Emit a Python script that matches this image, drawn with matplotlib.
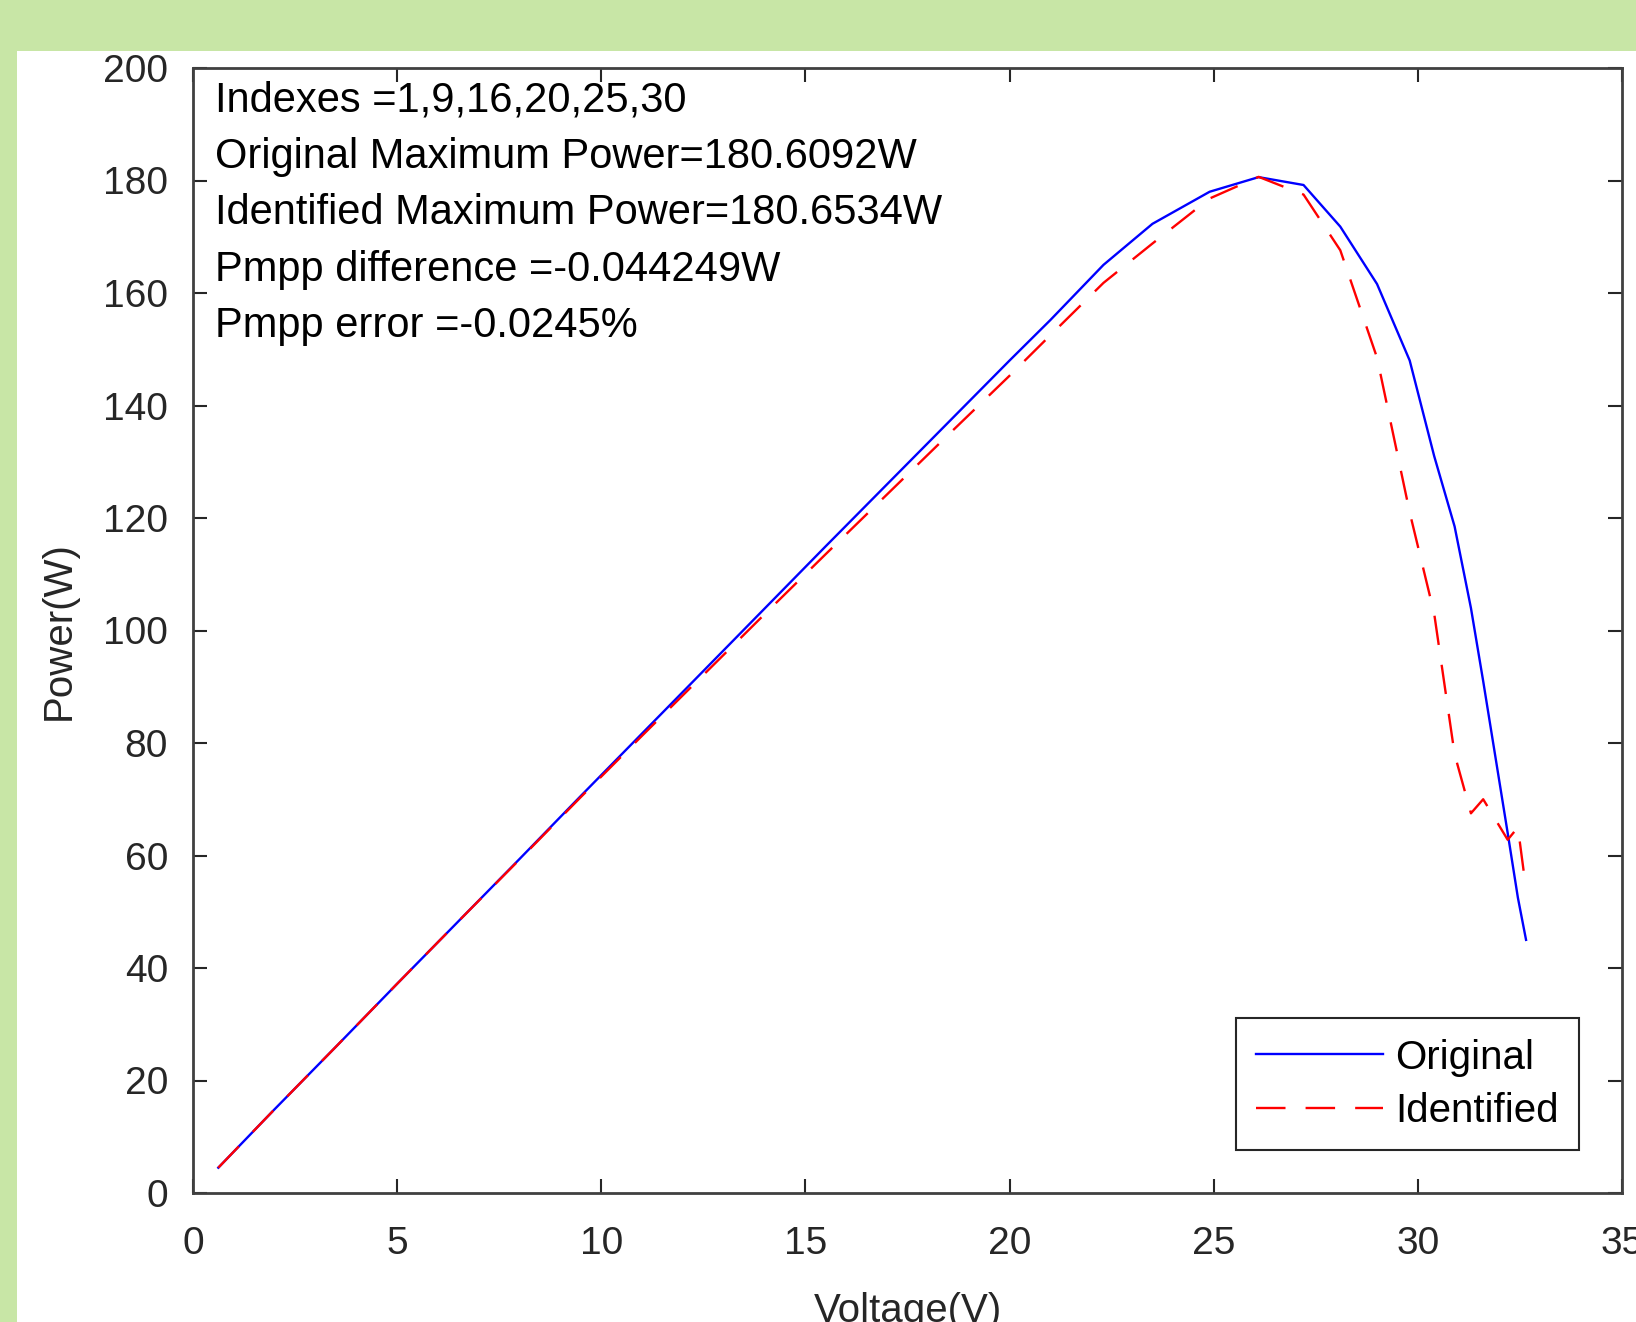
import matplotlib
matplotlib.use("Agg")
import matplotlib.pyplot as plt
from matplotlib.patches import Rectangle

plt.rcParams['font.family'] = ['Liberation Sans', 'DejaVu Sans']

# measured P-V curve (Original) and fitted one (Identified)
voltage = [0.62, 2.0, 3.5, 5.0, 6.5, 8.0, 9.5, 11.0, 12.5, 14.0, 15.5, 17.0, 18.5, 20.0, 21.0,
           22.3, 23.5, 24.9, 26.1, 27.2, 28.1, 29.0, 29.8, 30.4, 30.9, 31.3, 31.6, 32.2, 32.45, 32.65]
p_original = [4.5, 14.9, 26.0, 37.2, 48.3, 59.4, 70.6, 81.7, 92.8, 103.9, 115.0, 126.0, 137.0, 148.0, 155.2,
              165.0, 172.3, 178.0, 180.6, 179.2, 171.8, 161.6, 148.0, 131.0, 118.5, 104.0, 91.0, 64.0, 52.5, 45.0]
p_identified = [4.5, 14.9, 26.0, 37.2, 48.3, 59.3, 70.4, 81.3, 92.1, 102.9, 113.6, 124.2, 134.8, 145.3, 152.5,
                161.8, 168.8, 176.8, 180.65, 177.5, 167.6, 148.5, 121.0, 103.0, 78.0, 67.5, 70.0, 62.8, 65.0, 54.0]

info_lines = ["Indexes =1,9,16,20,25,30",
              "Original Maximum Power=180.6092W",
              "Identified Maximum Power=180.6534W",
              "Pmpp difference =-0.044249W",
              "Pmpp error =-0.0245%"]

W, H = 1636, 1322
fig = plt.figure(figsize=(W / 100, H / 100), dpi=100, facecolor='#c8e6a6')
fig.add_artist(Rectangle((17 / W, 0), 1, (H - 51) / H, transform=fig.transFigure,
                         facecolor='white', edgecolor='none', zorder=0))

ax = fig.add_axes([193 / W, (H - 1193) / H, (1622 - 193) / W, (1193 - 68) / H])
ax.set_facecolor('white')

ax.plot(voltage, p_original, color='#0000ff', lw=1.7, label='Original')
ax.plot(voltage, p_identified, color='#ff0000', lw=1.7, linestyle=(0, (12.5, 8.5)), label='Identified')

ax.set_xlim(0, 35)
ax.set_ylim(0, 200)
ax.set_xticks(range(0, 36, 5))
ax.set_yticks(range(0, 201, 20))

fs = 28
ax.tick_params(direction='in', length=10, width=1.5, colors='#262626', labelsize=fs,
               top=True, right=True)
ax.tick_params(axis='x', pad=24)
ax.tick_params(axis='y', pad=18)
for s in ax.spines.values():
    s.set_color('#404040')
    s.set_linewidth(2.0)

ax.set_xlabel('Voltage(V)', fontsize=29, color='#262626', va='top')
ax.xaxis.set_label_coords(0.5, -0.088)
ax.set_ylabel('Power(W)', fontsize=29, color='#262626')
ax.yaxis.set_label_coords(-0.081, 0.5)

for i, line in enumerate(info_lines):
    ax.text(0.0154, 0.9612 - i * 0.0501, line, transform=ax.transAxes, fontsize=30,
            color='black', va='baseline', ha='left')

leg = ax.legend(loc='lower right', bbox_to_anchor=(0.970, 0.0382), borderaxespad=0,
                fontsize=29, handlelength=3.15, handletextpad=0.3, labelspacing=0.38,
                fancybox=False, framealpha=1, borderpad=0.5)
leg.get_frame().set_edgecolor('#262626')
leg.get_frame().set_linewidth(1.5)

plt.savefig('out.png', dpi=100, facecolor=fig.get_facecolor())
